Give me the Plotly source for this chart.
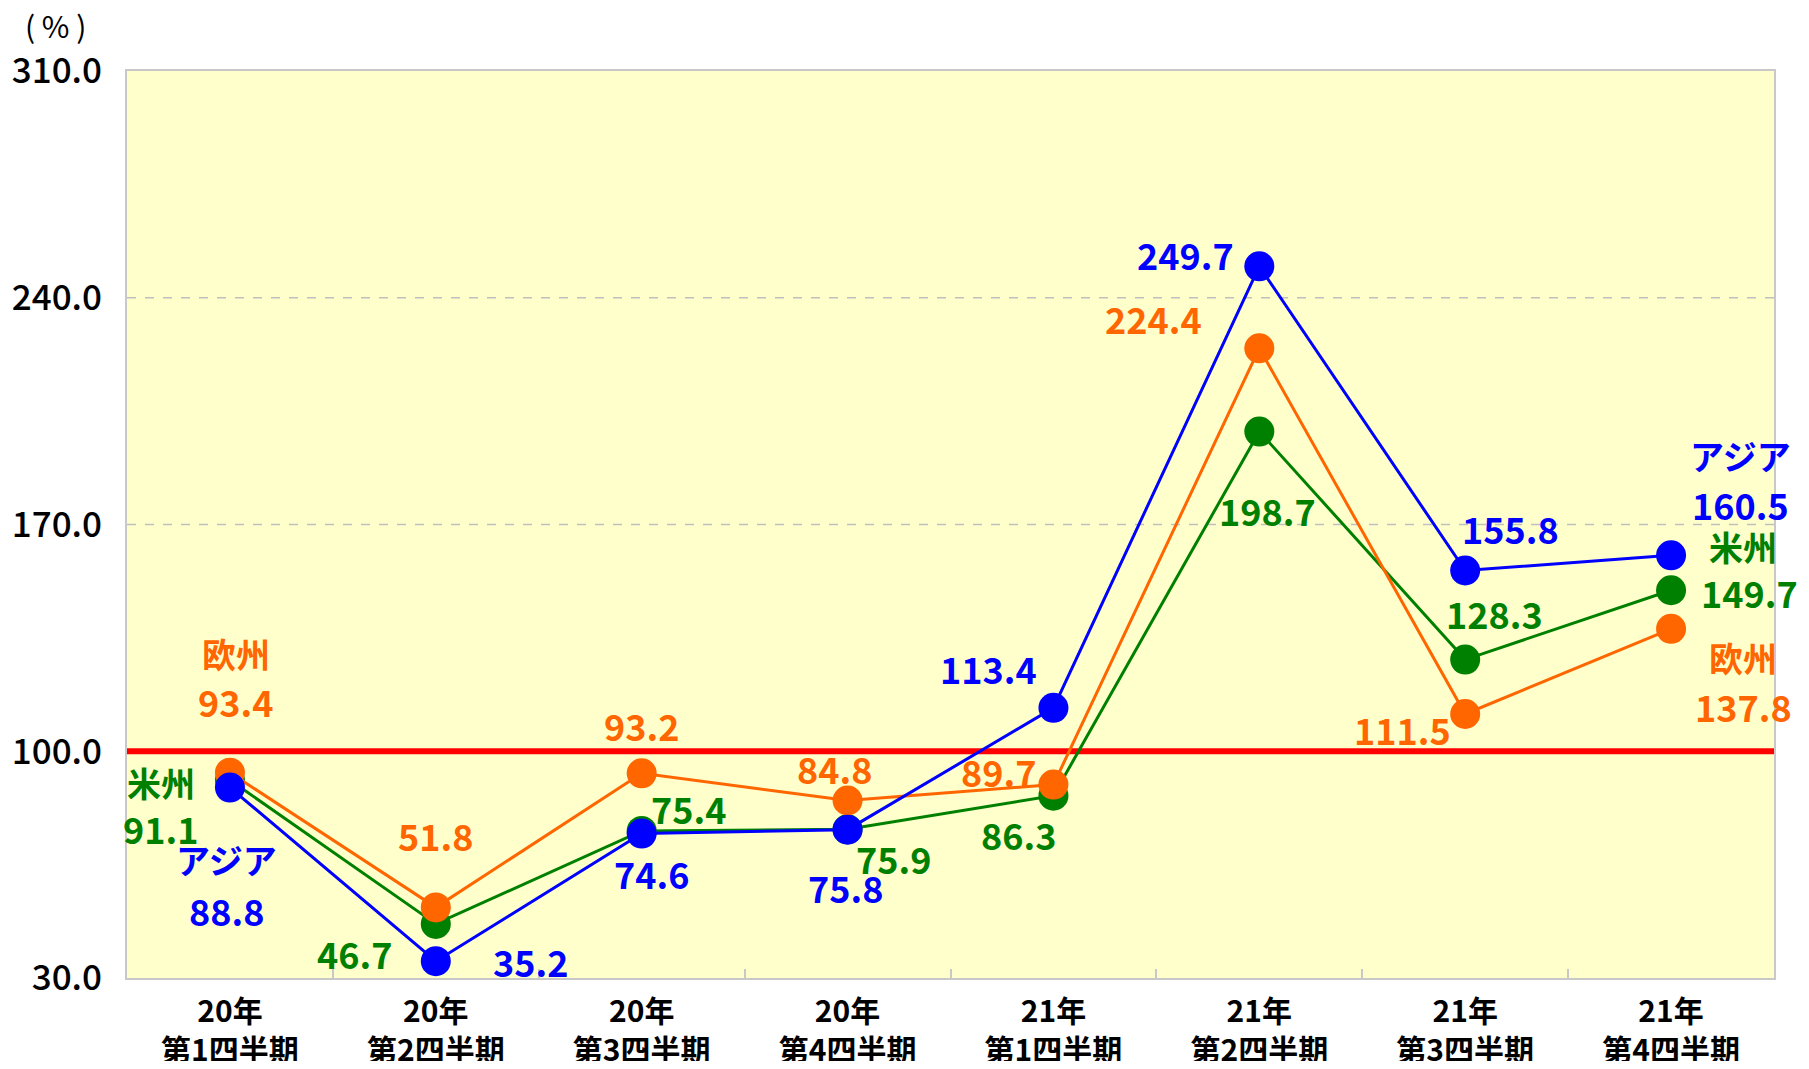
import plotly.graph_objects as go

# quarters (x categories)
quarters = ["20年<br>第1四半期", "20年<br>第2四半期", "20年<br>第3四半期", "20年<br>第4四半期",
            "21年<br>第1四半期", "21年<br>第2四半期", "21年<br>第3四半期", "21年<br>第4四半期"]

# series values (%)
america = [91.1, 46.7, 75.4, 75.9, 86.3, 198.7, 128.3, 149.7]
europe = [93.4, 51.8, 93.2, 84.8, 89.7, 224.4, 111.5, 137.8]
asia = [88.8, 35.2, 74.6, 75.8, 113.4, 249.7, 155.8, 160.5]

y_ticks = [30.0, 100.0, 170.0, 240.0, 310.0]
base_line = 100.0

FONT = "Noto Sans CJK JP"

series = [
    # name, values, colour
    ("米州", america, "#008000"),
    ("欧州", europe, "#FF6600"),
    ("アジア", asia, "#0000FF"),
]

# label offsets in pixels (dx right, dy down) relative to each marker
num_offsets = {
    "米州": [(-69, 48), (-81, 29), (47, -23), (46, 29), (-35, 38), (8, 78), (29, -47), (78, 2)],
    "欧州": [(6, -72), (0, -72), (0, -48), (-13, -32), (-55, -14), (-106, -30), (-63, 15), (72, 77)],
    "アジア": [(-3, 122), (95, 0), (10, 39), (-2, 57), (-65, -40), (-74, -12), (45, -43), (69, -51)],
}
# series name labels next to first and last points
name_offsets = {
    "米州": [(0, -69, 2), (7, 72, -44)],
    "欧州": [(0, 6, -119), (7, 72, 29)],
    "アジア": [(0, -3, 72), (7, 69, -100)],
}

fig = go.Figure()

# dashed grid lines (not at the base line, which gets the red line)
for t in y_ticks[1:-1]:
    if t == base_line:
        continue
    fig.add_shape(type="line", xref="paper", yref="y", x0=0, x1=1, y0=t, y1=t,
                  line=dict(color="#BFBFBF", width=1.5, dash="dash"), layer="below")

fig.add_shape(type="line", xref="paper", yref="y", x0=0, x1=1, y0=base_line, y1=base_line,
              line=dict(color="#FF0000", width=6), layer="below")

for name, vals, color in series:
    fig.add_trace(go.Scatter(
        x=quarters, y=vals, mode="lines+markers", name=name,
        line=dict(color=color, width=3),
        marker=dict(color=color, size=30),
        showlegend=False,
    ))

annotations = []
for name, vals, color in series:
    for i, v in enumerate(vals):
        dx, dy = num_offsets[name][i]
        annotations.append(dict(
            x=quarters[i], y=v, text=f"{v:.1f}", showarrow=False,
            xshift=dx, yshift=-dy, borderpad=0,
            font=dict(family=FONT, size=36, color=color, weight="bold"),
        ))
    for i, dx, dy in name_offsets[name]:
        annotations.append(dict(
            x=quarters[i], y=vals[i], text=name, showarrow=False,
            xshift=dx, yshift=-dy, borderpad=0,
            font=dict(family=FONT, size=34, color=color, weight="bold"),
        ))

annotations.append(dict(
    xref="paper", yref="paper", x=0, y=1, xshift=-72, yshift=46,
    xanchor="center", yanchor="middle",
    text="(\u00a0%\u00a0)", showarrow=False,
    font=dict(family=FONT, size=30, color="black"),
))

# the page body keeps its 8px margin, so the figure is a bit smaller than the window
fig.update_layout(
    width=1793, height=1053,
    margin=dict(l=119, r=27, t=63, b=83),
    paper_bgcolor="white",
    plot_bgcolor="#FFFFCC",
    font=dict(family=FONT, color="black"),
    annotations=annotations,
)

fig.update_xaxes(
    type="category", range=[-0.5, 7.5], automargin=False,
    showgrid=False, showline=True, mirror=True, linecolor="#C8C8C8", linewidth=2,
    ticks="inside", tickson="boundaries", ticklen=9, tickcolor="#C8C8C8", tickwidth=2,
    tickfont=dict(family=FONT, size=30, color="black", weight="bold"),
    ticklabelstandoff=6,
)

fig.update_yaxes(
    range=[30, 310], tickvals=y_ticks, ticktext=[f"{t:.1f}" for t in y_ticks],
    automargin=False, showgrid=False,
    showline=True, mirror=True, linecolor="#C8C8C8", linewidth=2,
    zeroline=False, ticks="",
    tickfont=dict(family=FONT, size=35, color="black", weight=500),
    ticklabelstandoff=16,
)

fig.write_html("out.html")
